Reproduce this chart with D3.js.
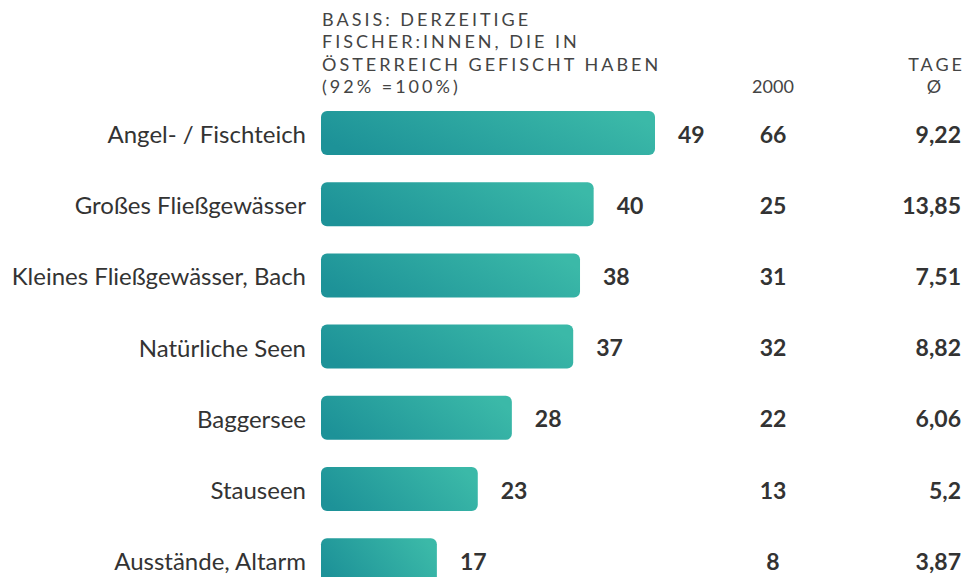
<!DOCTYPE html>
<html><head><meta charset="utf-8">
<script src="https://cdn.jsdelivr.net/npm/d3@7"></script>
<style>body{margin:0;background:#fff;}svg{display:block;font-family:Lato,sans-serif;}</style>
</head><body>
<script>
const categories = ["Angel- / Fischteich","Großes Fließgewässer","Kleines Fließgewässer, Bach","Natürliche Seen","Baggersee","Stauseen","Ausstände, Altarm"];
const values = [49,40,38,37,28,23,17];
const values2000 = [66,25,31,32,22,13,8];
const tage = ["9,22","13,85","7,51","8,82","6,06","5,2","3,87"];
const headerLines = ["BASIS: DERZEITIGE","FISCHER:INNEN, DIE IN","ÖSTERREICH GEFISCHT HABEN","(92% =100%)"];

const W=967,H=577;
const svg=d3.select("body").append("svg").attr("width",W).attr("height",H);
const defs=svg.append("defs");
const g=defs.append("linearGradient").attr("id","grad").attr("x1","0%").attr("y1","65%").attr("x2","100%").attr("y2","35%");
g.append("stop").attr("offset","0%").attr("stop-color","#1d9298");
g.append("stop").attr("offset","100%").attr("stop-color","#3bb9a8");

const x=d3.scaleLinear().domain([0,49]).range([321,655]);
const step=71.2, bh=44;
const y=d3.scaleBand().domain(categories).range([111,111+step*6+bh]).paddingInner(1-bh/step).paddingOuter(0).align(0);
const yPos=d=>y(d);

svg.selectAll("rect.bar").data(values).join("rect").attr("class","bar")
 .attr("x",x(0)).attr("y",(d,i)=>yPos(categories[i])).attr("width",d=>x(d)-x(0)).attr("height",y.bandwidth())
 .attr("rx",6).attr("fill","url(#grad)");

const txt="#333";
const cy=i=>yPos(categories[i])+y.bandwidth()/2+1.5;
svg.selectAll("text.cat").data(categories).join("text").attr("class","cat")
 .attr("x",306).attr("y",(d,i)=>cy(i)).attr("dy","0.35em").attr("text-anchor","end")
 .attr("font-size",24).attr("fill",txt).text(d=>d);
svg.selectAll("text.val").data(values).join("text").attr("class","val")
 .attr("x",d=>x(d)+23).attr("y",(d,i)=>cy(i)).attr("dy","0.35em")
 .attr("font-size",23).attr("font-weight",700).attr("fill",txt).text(d=>d);
svg.selectAll("text.v2000").data(values2000).join("text").attr("class","v2000")
 .attr("x",773).attr("y",(d,i)=>cy(i)).attr("dy","0.35em").attr("text-anchor","middle")
 .attr("font-size",23).attr("font-weight",700).attr("fill",txt).text(d=>d);
svg.selectAll("text.tage").data(tage).join("text").attr("class","tage")
 .attr("x",961).attr("y",(d,i)=>cy(i)).attr("dy","0.35em").attr("text-anchor","end")
 .attr("font-size",23).attr("font-weight",700).attr("fill",txt).text(d=>d);

svg.selectAll("text.hdr").data(headerLines).join("text").attr("class","hdr")
 .attr("x",322).attr("y",(d,i)=>26+i*22.3).attr("font-size",18).attr("letter-spacing",3)
 .attr("fill","#444").text(d=>d);
svg.append("text").attr("x",773).attr("y",93).attr("text-anchor","middle").attr("font-size",18).attr("fill","#444").text("2000");
svg.append("text").attr("x",965).attr("y",71).attr("text-anchor","end").attr("font-size",18).attr("letter-spacing",3).attr("fill","#444").text("TAGE");
svg.append("text").attr("x",934).attr("y",93).attr("text-anchor","middle").attr("font-size",18).attr("fill","#444").text("Ø");
</script>
</body></html>
